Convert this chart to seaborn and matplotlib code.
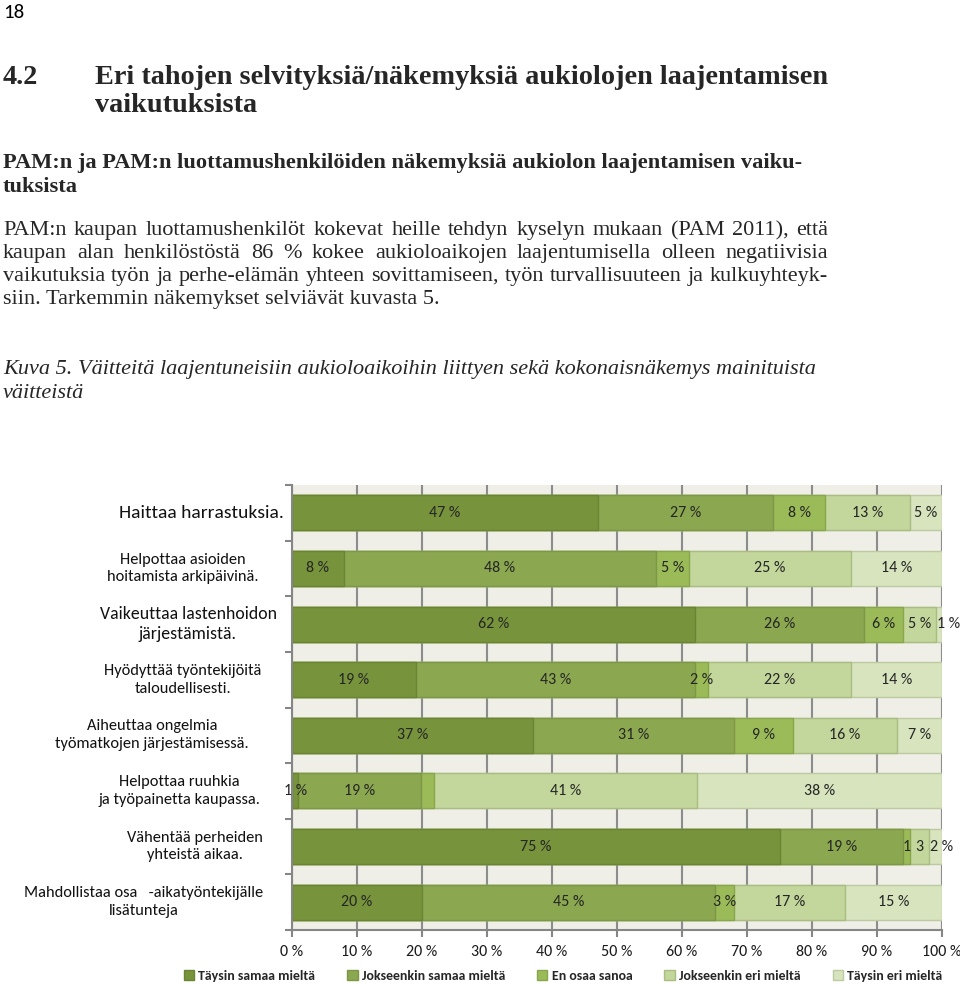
import matplotlib
matplotlib.use("Agg")
import matplotlib.pyplot as plt
import numpy as np
import pandas as pd
import seaborn as sns
from matplotlib.patches import Patch
from matplotlib.transforms import IdentityTransform, blended_transform_factory

# ---- data (Kuva 5) ----
statements = [
    "Haittaa harrastuksia.",
    "Helpottaa asioiden\nhoitamista arkipäivinä.",
    "Vaikeuttaa lastenhoidon\njärjestämistä.",
    "Hyödyttää työntekijöitä\ntaloudellisesti.",
    "Aiheuttaa ongelmia\ntyömatkojen järjestämisessä.",
    "Helpottaa ruuhkia\nja työpainetta kaupassa.",
    "Vähentää perheiden\nyhteistä aikaa.",
    "Mahdollistaa osa   -aikatyöntekijälle\nlisätunteja",
]
responses = ["Täysin samaa mieltä", "Jokseenkin samaa mieltä", "En osaa sanoa",
             "Jokseenkin eri mieltä", "Täysin eri mieltä"]
taysin_samaa = [47, 8, 62, 19, 37, 1, 75, 20]
jokseenkin_samaa = [27, 48, 26, 43, 31, 19, 19, 45]
en_osaa_sanoa = [8, 5, 6, 2, 9, 2, 1, 3]
jokseenkin_eri = [13, 25, 5, 22, 16, 41, 3, 17]
taysin_eri = [5, 14, 1, 14, 7, 38, 2, 15]
# labels that the source chart shows without "%" or not at all
short_labels = {(6, 2): "1", (6, 3): "3"}
hidden_labels = {(5, 2)}
x_ticks = [0, 10, 20, 30, 40, 50, 60, 70, 80, 90, 100]
x_tick_labels = [f"{t} %" for t in x_ticks]

colors = ["#77933c", "#8ba74f", "#9bbb59", "#c3d69b", "#d7e4bd"]
edges = ["#6a8434", "#7d9746", "#88a64c", "#a9bd82", "#bccaa2"]
# tiny end segments: Excel pushes their label past the bar end
left_aligned = {(2, 4), (6, 4)}
# category label layout (pixel centre, font size) as in the Excel export
label_center_px = [201, 183, 188, 183, 152, 179, 195, 144]
label_size = [14, 11.8, 12.8, 11.8, 11.8, 11.8, 11.8, 11.8]

df = pd.DataFrame({"statement": statements})
for name, vals in zip(responses, [taysin_samaa, jokseenkin_samaa, en_osaa_sanoa,
                                  jokseenkin_eri, taysin_eri]):
    df[name] = vals
# 100 % stacked: each row scaled to its total, like Excel does
shares = df[responses].div(df[responses].sum(axis=1), axis=0) * 100
cum = shares.cumsum(axis=1)

W, H = 960, 984
sns.set_theme(style="white")
plt.rcParams["font.family"] = ["Carlito", "DejaVu Sans"]

fig = plt.figure(figsize=(W / 100, H / 100), dpi=100)
renderer = fig.canvas.get_renderer()
SERIF = "Liberation Serif"


def px_text(x, y, s, **kw):
    # x, y in pixels measured from the top-left corner of the page
    return fig.text(x, H - y, s, transform=IdentityTransform(), **kw)


def fit_size(s, width, **kw):
    t = px_text(0, 0, s, fontsize=20, **kw)
    w = t.get_window_extent(renderer).width
    t.remove()
    return 20 * width / w


def justify(line, x0, x1, y, **kw):
    words = line.split(" ")
    ts = [px_text(x0, y, w, **kw) for w in words]
    widths = [t.get_window_extent(renderer).width for t in ts]
    gap = (x1 - x0 - sum(widths)) / (len(words) - 1)
    x = x0
    for t, w in zip(ts, widths):
        t.set_position((x, H - y))
        x += w + gap


# ---- page text above the chart ----
px_text(3, 18, "18", fontsize=15, color="black")

h_size = fit_size("Eri tahojen selvityksiä/näkemyksiä aukiolojen laajentamisen", 733,
                  family=SERIF, weight="bold")
px_text(3, 84, "4.2", fontsize=h_size, family=SERIF, weight="bold")
px_text(95, 84, "Eri tahojen selvityksiä/näkemyksiä aukiolojen laajentamisen",
        fontsize=h_size, family=SERIF, weight="bold")
px_text(95, 112, "vaikutuksista", fontsize=h_size, family=SERIF, weight="bold")

sub1 = "PAM:n ja PAM:n luottamushenkilöiden näkemyksiä aukiolon laajentamisen vaiku-"
s_size = fit_size(sub1, 794, family=SERIF, weight="bold")
px_text(3, 168, sub1, fontsize=s_size, family=SERIF, weight="bold")
px_text(3, 192, "tuksista", fontsize=s_size, family=SERIF, weight="bold")

para = [
    "PAM:n kaupan luottamushenkilöt kokevat heille tehdyn kyselyn mukaan (PAM 2011), että",
    "kaupan alan henkilöstöstä 86 % kokee aukioloaikojen laajentumisella olleen negatiivisia",
    "vaikutuksia työn ja perhe-elämän yhteen sovittamiseen, työn turvallisuuteen ja kulkuyhteyk-",
    "siin. Tarkemmin näkemykset selviävät kuvasta 5.",
]
p_size = fit_size(para[3], 438, family=SERIF)
for i, line in enumerate(para[:3]):
    justify(line, 3, 828, 235 + 23 * i, fontsize=p_size, family=SERIF)
px_text(3, 235 + 23 * 3, para[3], fontsize=p_size, family=SERIF)

cap1 = "Kuva 5. Väitteitä laajentuneisiin aukioloaikoihin liittyen sekä kokonaisnäkemys mainituista"
c_size = fit_size(cap1, 814, family=SERIF, style="italic")
px_text(3, 374, cap1, fontsize=c_size, family=SERIF, style="italic")
px_text(3, 398, "väitteistä", fontsize=c_size, family=SERIF, style="italic")

# ---- chart ----
ax = fig.add_axes([292 / W, 1 - 930 / H, 650 / W, 445 / H])
ax.set_facecolor("#efefe8")
ax.set_axisbelow(True)

for j in reversed(range(len(responses))):
    layer = pd.DataFrame({"statement": statements, "cum": cum[responses[j]]})
    sns.barplot(data=layer, x="cum", y="statement", orient="h", color=colors[j],
                saturation=1, width=0.63, edgecolor=edges[j], linewidth=1.0,
                errorbar=None, ax=ax)

for i in range(len(statements)):
    for j, name in enumerate(responses):
        if (i, j) in hidden_labels:
            continue
        val = df[name].iloc[i]
        label = short_labels.get((i, j), f"{val} %")
        if (i, j) in left_aligned:
            xc, ha = cum[name].iloc[i] - shares[name].iloc[i] + 0.2, "left"
        else:
            xc, ha = cum[name].iloc[i] - shares[name].iloc[i] / 2, "center"
        ax.text(xc, i, label, ha=ha, va="center", fontsize=11.5,
                color="#262626", clip_on=False)

ax.set_xlim(0, 100)
ax.set_ylim(len(statements) - 0.5, -0.5)
ax.set_xticks(x_ticks)
ax.set_xticklabels(x_tick_labels, fontsize=11.5, color="#1a1a1a")
ax.xaxis.grid(True, color="#8c8c8c", linewidth=1.5)
ax.yaxis.grid(False)
ax.set_xlabel("")
ax.set_ylabel("")

# category labels: centred blocks like the Excel export
ax.set_yticks(range(len(statements)))
ax.set_yticklabels([])
lab_tr = blended_transform_factory(IdentityTransform(), ax.transData)
for i, s in enumerate(statements):
    ax.text(label_center_px[i], i, s, transform=lab_tr, ha="center", va="center",
            multialignment="center", linespacing=1.35, fontsize=label_size[i],
            color="#111111", clip_on=False)

ax.set_yticks(np.arange(-0.5, len(statements), 1.0), minor=True)
ax.tick_params(axis="y", which="major", length=0)
ax.tick_params(axis="y", which="minor", length=5, width=1.5, color="#868686", left=True)
ax.tick_params(axis="x", which="major", length=5, width=1.5, color="#868686",
               bottom=True, pad=6)

for side in ["top", "right"]:
    ax.spines[side].set_visible(False)
for side in ["left", "bottom"]:
    ax.spines[side].set_color("#868686")
    ax.spines[side].set_linewidth(1.5)

handles = [Patch(facecolor=c, edgecolor=e, linewidth=1.0) for c, e in zip(colors, edges)]
fig.legend(handles, responses, loc="center", ncol=5, frameon=False,
           bbox_to_anchor=(563 / W, 1 - 976 / H),
           handlelength=0.75, handleheight=0.75, handletextpad=0.3,
           columnspacing=2.3, prop={"family": "Carlito", "weight": "bold", "size": 10})

fig.savefig("out.png", dpi=100, facecolor="white")
